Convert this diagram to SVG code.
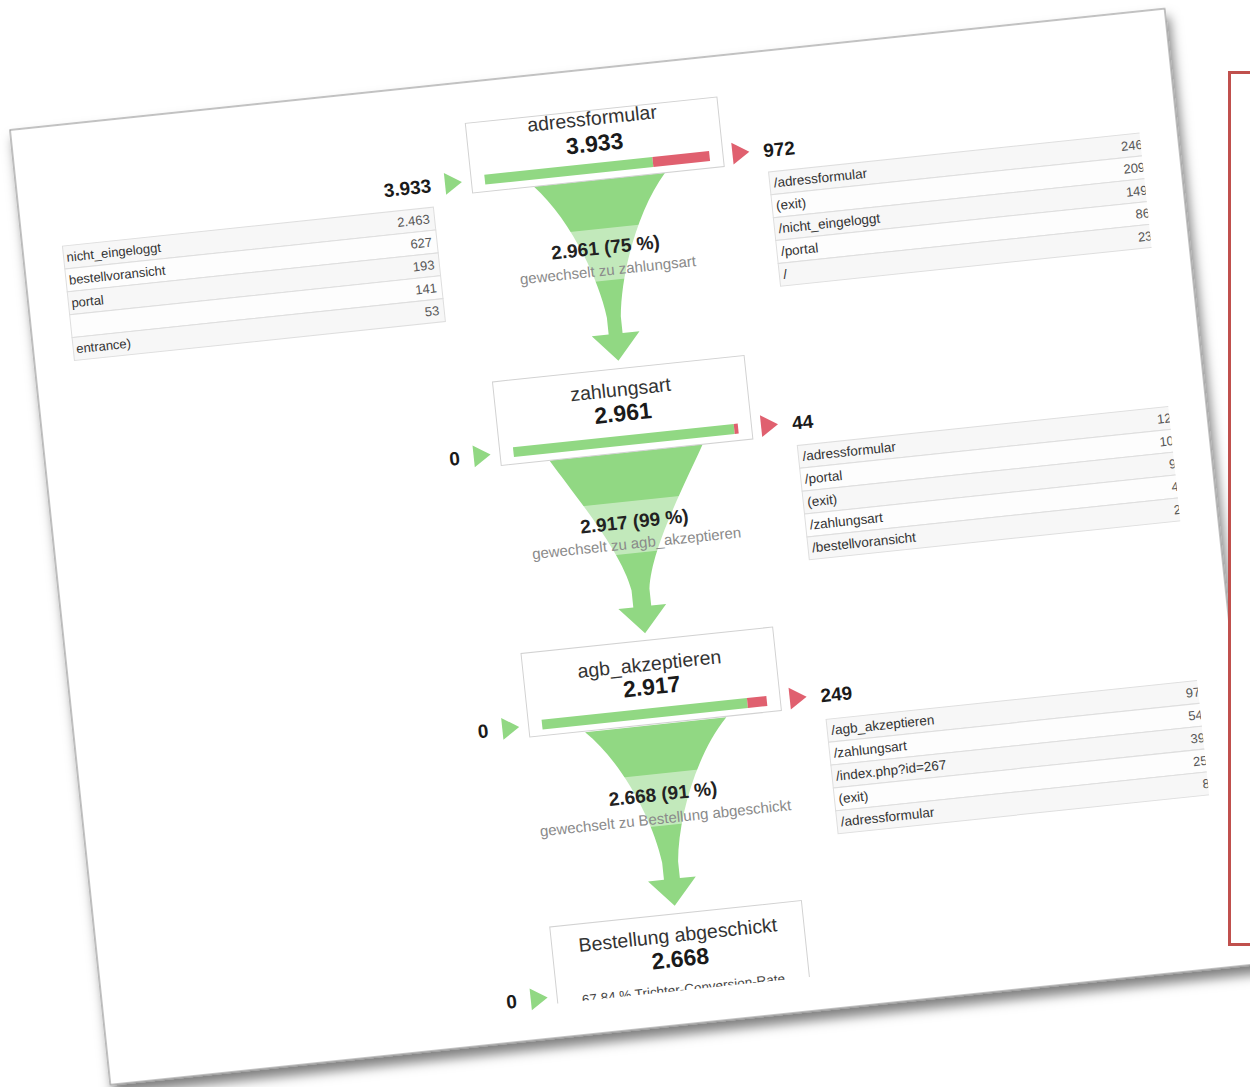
<svg xmlns="http://www.w3.org/2000/svg" width="1250" height="1087" viewBox="0 0 1250 1087">
<defs>
<style>
text{font-family:"Liberation Sans",Arial,sans-serif}
.title{font-size:19.5px;fill:#333;text-anchor:middle}
.num{font-size:23px;font-weight:bold;fill:#1a1a1a;text-anchor:middle}
.side{font-size:19px;font-weight:bold;fill:#1a1a1a}
.end{text-anchor:end}
.flab{font-size:19px;font-weight:bold;fill:#222;text-anchor:middle}
.fsub{font-size:15px;fill:#8a8a8a;text-anchor:middle}
.box{fill:#fff;stroke:#d2d2d2;stroke-width:1}
.g{fill:#91d883}
.red{fill:#e0606f}
.band{fill:#fff;fill-opacity:0.45}
.ra{fill:#f7f7f7;stroke:#dedede;stroke-width:1}
.rb{fill:#fdfdfd;stroke:#dedede;stroke-width:1}
.tl{font-size:13.5px;fill:#333}
.tv{font-size:13px;fill:#555;text-anchor:end}
.conv{font-size:13.5px;fill:#444;text-anchor:middle}
</style>
<filter id="shadow" x="-5%" y="-5%" width="112%" height="115%">
<feDropShadow dx="3" dy="9" stdDeviation="6" flood-color="#000" flood-opacity="0.5"/>
</filter>
<clipPath id="clipR"><rect x="0" y="0" width="1123" height="960"/></clipPath>
<clipPath id="clipB"><rect x="0" y="0" width="1161" height="926"/></clipPath>
</defs>
<g transform="translate(10,130) rotate(-6)">
<rect id="page" x="0" y="0" width="1161" height="960" fill="#fff" stroke="#9a9a9a" stroke-width="1.2" filter="url(#shadow)"/>

<g id="connectors">
<path class="g" d="M515,111 C545,144 569,204 574,249 L574,266 L557,266 L581,293 L605,266 L588,266 L588,249 C593,204 617,144 647,111 Z"/>
<rect class="band" x="480" y="160" width="200" height="52"/>
<text class="flab" x="580" y="185.5">2.961 (75 %)</text>
<text class="fsub" x="580" y="207">gewechselt zu zahlungsart</text>

<path class="g" d="M502,385 C524,423 564,483 570,523 L570,540 L555,540 L579,567 L603,540 L588,540 L588,523 C594,483 634,423 656,385 Z"/>
<rect class="band" x="480" y="434" width="200" height="52"/>
<text class="flab" x="580" y="461">2.917 (99 %)</text>
<text class="fsub" x="580" y="481.5">gewechselt zu agb_akzeptieren</text>

<path class="g" d="M509,659 C542,692 567,752 572,797 L572,814 L556,814 L580,841 L604,814 L588,814 L588,797 C593,752 618,692 651,659 Z"/>
<rect class="band" x="480" y="708" width="200" height="52"/>
<text class="flab" x="580" y="735">2.668 (91 %)</text>
<text class="fsub" x="580" y="758">gewechselt zu Bestellung abgeschickt</text>
</g>

<g id="node-adressformular">
<rect class="box" x="453.5" y="41" width="253" height="70"/>
<text class="title" x="580" y="56">adressformular</text>
<text class="num" x="580" y="82.5">3.933</text>
<rect class="g" x="467" y="94" width="169" height="10"/>
<rect class="red" x="636" y="94" width="57" height="10"/>
<polygon class="g" points="427,88 444,99 427,110"/>
<text class="side end" x="413" y="106">3.933</text>
<polygon class="red" points="716,88 733,99 716,110"/>
<text class="side" x="747" y="106">972</text>
</g>

<g id="entrances-adressformular">
<rect class="ra" x="40" y="121" width="373" height="23"/>
<rect class="rb" x="40" y="144" width="373" height="23"/>
<rect class="ra" x="40" y="167" width="373" height="23"/>
<rect class="rb" x="40" y="190" width="373" height="23"/>
<rect class="ra" x="40" y="213" width="373" height="23"/>
<text class="tl" x="43" y="137" style="font-size:13px">nicht_eingeloggt</text>
<text class="tl" x="43" y="160" style="font-size:13px">bestellvoransicht</text>
<text class="tl" x="43" y="183" style="font-size:13px">portal</text>
<text class="tl" x="43" y="229" style="font-size:13px">entrance)</text>
<text class="tv" x="408" y="137">2.463</text>
<text class="tv" x="408" y="160">627</text>
<text class="tv" x="408" y="183">193</text>
<text class="tv" x="408" y="206">141</text>
<text class="tv" x="408" y="229">53</text>
</g>

<g id="exits-adressformular" clip-path="url(#clipR)">
<rect class="ra" x="750" y="121" width="380" height="23"/>
<rect class="rb" x="750" y="144" width="380" height="23"/>
<rect class="ra" x="750" y="167" width="380" height="23"/>
<rect class="rb" x="750" y="190" width="380" height="23"/>
<rect class="ra" x="750" y="213" width="380" height="23"/>
<text class="tl" x="754" y="137">/adressformular</text>
<text class="tl" x="754" y="160">(exit)</text>
<text class="tl" x="754" y="183">/nicht_eingeloggt</text>
<text class="tl" x="754" y="206">/portal</text>
<text class="tl" x="754" y="229">/</text>
<text class="tv" x="1125" y="137">246</text>
<text class="tv" x="1125" y="160">209</text>
<text class="tv" x="1125" y="183">149</text>
<text class="tv" x="1125" y="206">86</text>
<text class="tv" x="1125" y="229">23</text>
</g>

<g id="node-zahlungsart">
<rect class="box" x="453.5" y="301" width="253" height="84"/>
<text class="title" x="580" y="328.5">zahlungsart</text>
<text class="num" x="580" y="353.5">2.961</text>
<rect class="g" x="467" y="368" width="222" height="10"/>
<rect class="red" x="689" y="368" width="4" height="10"/>
<polygon class="g" points="427,362 444,373 427,384"/>
<text class="side end" x="413" y="380">0</text>
<polygon class="red" points="716,362 733,373 716,384"/>
<text class="side" x="747" y="380">44</text>
</g>

<g id="exits-zahlungsart" clip-path="url(#clipR)">
<rect class="ra" x="750" y="396" width="380" height="23"/>
<rect class="rb" x="750" y="419" width="380" height="23"/>
<rect class="ra" x="750" y="442" width="380" height="23"/>
<rect class="rb" x="750" y="465" width="380" height="23"/>
<rect class="ra" x="750" y="488" width="380" height="23"/>
<text class="tl" x="754" y="412">/adressformular</text>
<text class="tl" x="754" y="435">/portal</text>
<text class="tl" x="754" y="458">(exit)</text>
<text class="tl" x="754" y="481">/zahlungsart</text>
<text class="tl" x="754" y="504">/bestellvoransicht</text>
<text class="tv" x="1125" y="412">12</text>
<text class="tv" x="1125" y="435">10</text>
<text class="tv" x="1125" y="458">9</text>
<text class="tv" x="1125" y="481">4</text>
<text class="tv" x="1125" y="504">2</text>
</g>

<g id="node-agb_akzeptieren">
<rect class="box" x="453.5" y="574" width="253" height="84"/>
<text class="title" x="580" y="604.5">agb_akzeptieren</text>
<text class="num" x="580" y="628.5">2.917</text>
<rect class="g" x="467" y="642" width="206.5" height="10"/>
<rect class="red" x="673.5" y="642" width="19.5" height="10"/>
<polygon class="g" points="427,636 444,647 427,658"/>
<text class="side end" x="413" y="654">0</text>
<polygon class="red" points="716,636 733,647 716,658"/>
<text class="side" x="747" y="654">249</text>
</g>

<g id="exits-agb_akzeptieren" clip-path="url(#clipR)">
<rect class="ra" x="750" y="671.5" width="380" height="23"/>
<rect class="rb" x="750" y="694.5" width="380" height="23"/>
<rect class="ra" x="750" y="717.5" width="380" height="23"/>
<rect class="rb" x="750" y="740.5" width="380" height="23"/>
<rect class="ra" x="750" y="763.5" width="380" height="23"/>
<text class="tl" x="754" y="687.5">/agb_akzeptieren</text>
<text class="tl" x="754" y="710.5">/zahlungsart</text>
<text class="tl" x="754" y="733.5">/index.php?id=267</text>
<text class="tl" x="754" y="756.5">(exit)</text>
<text class="tl" x="754" y="779.5">/adressformular</text>
<text class="tv" x="1125" y="687.5">97</text>
<text class="tv" x="1125" y="710.5">54</text>
<text class="tv" x="1125" y="733.5">39</text>
<text class="tv" x="1125" y="756.5">25</text>
<text class="tv" x="1125" y="779.5">8</text>
</g>

<g id="node-bestellung_abgeschickt">
<g clip-path="url(#clipB)">
<rect class="box" x="453.5" y="849" width="253" height="100"/>
<text class="title" x="580" y="877">Bestellung abgeschickt</text>
<text class="num" x="580" y="902">2.668</text>
<text class="conv" x="580" y="929.5">67,84 % Trichter-Conversion-Rate</text>
</g>
<polygon class="g" points="427,908 444,919 427,930"/>
<text class="side end" x="413" y="926">0</text>
</g>
</g>
<rect id="side-panel" x="1229.5" y="72.5" width="40" height="872" fill="#fff" stroke="#c0504d" stroke-width="3"/>
</svg>
